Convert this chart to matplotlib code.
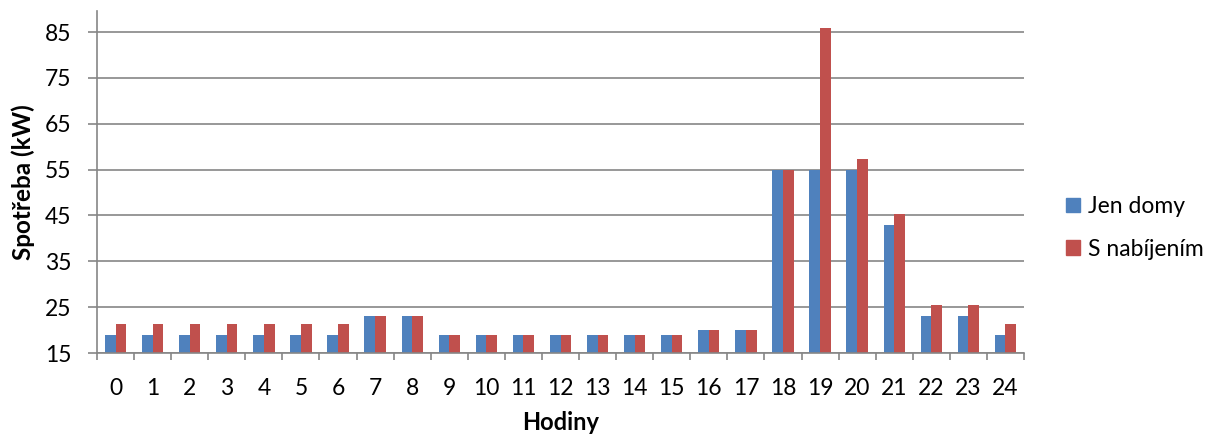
import matplotlib
matplotlib.use("Agg")
import matplotlib.pyplot as plt
import numpy as np
from matplotlib.patches import Patch

hours = [str(h) for h in range(25)]
jen_domy = [19, 19, 19, 19, 19, 19, 19, 23, 23, 19, 19, 19, 19, 19, 19, 19, 20, 20,
            55, 55, 55, 43, 23, 23, 19]
s_nabijenim = [21.3, 21.3, 21.3, 21.3, 21.3, 21.3, 21.3, 23, 23, 19, 19, 19, 19, 19, 19, 19, 20, 20,
               55, 86, 57.4, 45.3, 25.4, 25.4, 21.3]
yticks = [15, 25, 35, 45, 55, 65, 75, 85]

plt.rcParams['font.family'] = ['Lato', 'DejaVu Sans']

FS = 16.5
fig = plt.figure(figsize=(12.16, 4.36), dpi=100)
ax = fig.add_axes([97/1216, 1 - 353/436, (1024-97)/1216, (353-11)/436])

x = np.arange(len(hours))
w = 0.288
blue = '#4F81BD'
red = '#C0504D'
ax.bar(x - w/2, [v - 15 for v in jen_domy], w, bottom=15, color=blue, zorder=3)
ax.bar(x + w/2, [v - 15 for v in s_nabijenim], w, bottom=15, color=red, zorder=3)

ax.set_xlim(-0.5, len(hours) - 0.5)
ax.set_ylim(15, 89.6)
ax.set_yticks(yticks)
ax.set_yticklabels([str(t) for t in yticks], fontsize=FS)
ax.set_xticks(x)
ax.set_xticklabels(hours, fontsize=FS)
ax.set_xticks(np.arange(-0.5, len(hours)), minor=True)
ax.tick_params(axis='x', which='major', length=0, pad=18)
ax.tick_params(axis='x', which='minor', length=5, color='#868686', width=1.2)
ax.tick_params(axis='y', length=6.5, color='#868686', width=1.2, pad=12)

ax.grid(axis='y', color='#868686', linewidth=1.2, zorder=0)
for s in ['top', 'right']:
    ax.spines[s].set_visible(False)
for s in ['left', 'bottom']:
    ax.spines[s].set_color('#868686')
    ax.spines[s].set_linewidth(1.2)
ax.spines['bottom'].set_zorder(4)

ax.set_ylabel('Spotřeba (kW)', fontsize=17.5, fontweight='bold', labelpad=7)
ax.set_xlabel('Hodiny', fontsize=17, fontweight='bold', labelpad=9)

handles = [Patch(color=blue, label='Jen domy'), Patch(color=red, label='S nabíjením')]
fig.legend(handles=handles, loc='center left', bbox_to_anchor=(1066/1216, 1 - 228/436),
           frameon=False, fontsize=FS, handlelength=0.62, handleheight=0.62,
           handletextpad=0.32, labelspacing=0.95, borderaxespad=0, borderpad=0)

fig.savefig('out.png', dpi=100)
